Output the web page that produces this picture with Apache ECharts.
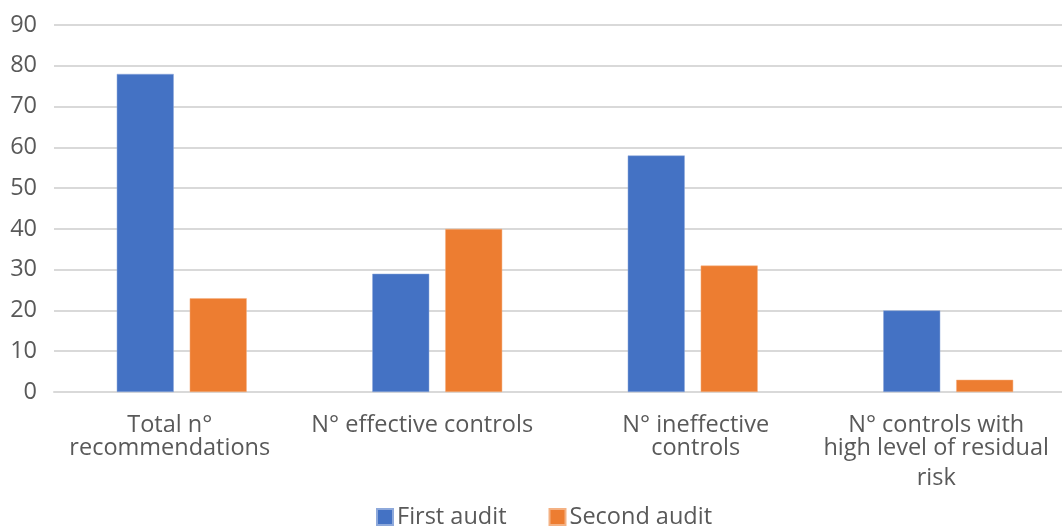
<!DOCTYPE html>
<html><head><meta charset="utf-8">
<script src="https://cdn.jsdelivr.net/npm/echarts@6/dist/echarts.min.js"></script>
<style>html,body{margin:0;padding:0;background:#fff;overflow:hidden}#c{width:1076px;height:527px}</style>
</head><body><div id="c"></div>
<script>
const categories = ["Total n°\nrecommendations", "N° effective controls", "N° ineffective\ncontrols", "N° controls with\nhigh level of residual\nrisk"];
const firstAudit = [78, 29, 58, 20];
const secondAudit = [23, 40, 31, 3];
const seriesNames = ["First audit", "Second audit"];
const yTicks = {min: 0, max: 90, interval: 10};

// small horizontal nudges of the category labels, as in the reference
const labelPads = [[0, 24, 0, 0], [0, 30, 0, 0], [0, 0, 0, 6], [0, 24, 0, 0]];

const chart = echarts.init(document.getElementById('c'));
const font = '"Open Sans", "Noto Sans", sans-serif';
chart.setOption({
  animation: false,
  textStyle: {fontFamily: font},
  legend: {
    bottom: -7, left: 371, itemWidth: 16, itemHeight: 16, itemGap: 42,
    icon: 'rect',
    textStyle: {fontSize: 23.5, color: '#595959', fontFamily: font, padding: [0,0,0,-1]},
    data: seriesNames
  },
  grid: {left: 54, top: 25, right: 0, height: 367, containLabel: false},
  xAxis: {
    type: 'category',
    data: categories.map(function (c, i) { return {value: c, textStyle: {padding: labelPads[i]}}; }),
    axisLine: {lineStyle: {color: '#d9d9d9', width: 2}},
    axisTick: {show: false},
    axisLabel: {
      fontSize: 23.5, color: '#595959', lineHeight: 23, margin: 22, fontFamily: font, interval: 0,
      formatter: function (v) {
        const lines = v.split('\n');
        return lines.map(function (l, i) { return (i === 2 ? '{b|' : '{a|') + l + '}'; }).join('\n');
      },
      rich: {
        a: {fontSize: 23.5, color: '#595959', lineHeight: 23, fontFamily: font},
        b: {fontSize: 23.5, color: '#595959', lineHeight: 37, fontFamily: font}
      }
    }
  },
  yAxis: {
    type: 'value', min: yTicks.min, max: yTicks.max, interval: yTicks.interval,
    axisLine: {show: false}, axisTick: {show: false},
    axisLabel: {fontSize: 23.5, color: '#595959', margin: 17, fontFamily: font},
    splitLine: {lineStyle: {color: '#d9d9d9', width: 2}}
  },
  series: [
    {name: seriesNames[0], type: 'bar', data: firstAudit, barWidth: 57, barGap: '28%',
     itemStyle: {color: '#4472C4', borderColor: '#8ea9db', borderWidth: 0.5}},
    {name: seriesNames[1], type: 'bar', data: secondAudit, barWidth: 57, barGap: '28%',
     itemStyle: {color: '#ED7D31', borderColor: '#f4b183', borderWidth: 0.5}}
  ]
});
</script></body></html>
